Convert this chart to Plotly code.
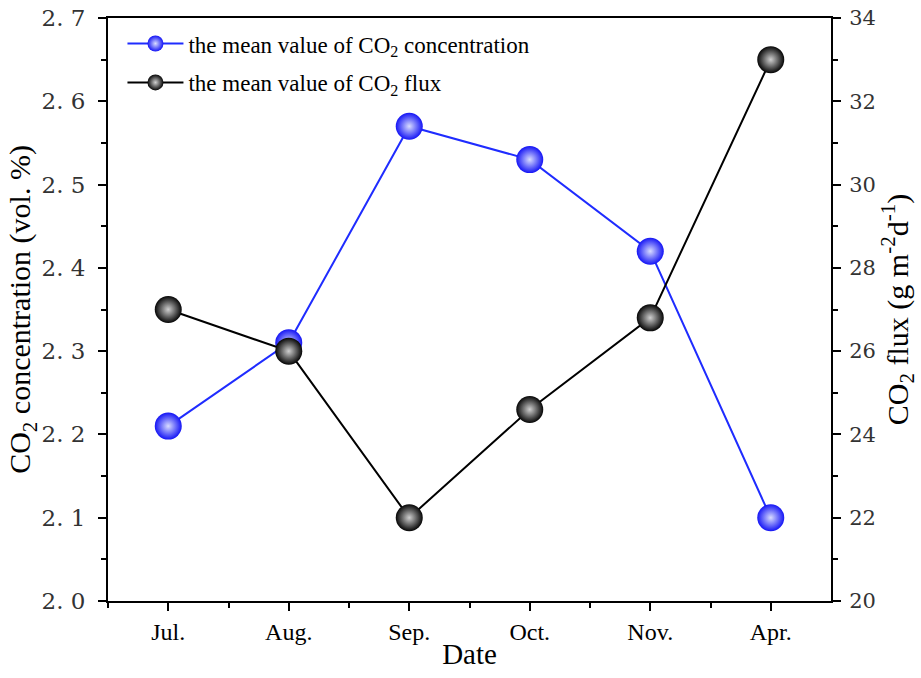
import plotly.graph_objects as go

months = ["Jul.", "Aug.", "Sep.", "Oct.", "Nov.", "Apr."]
co2_conc = [2.21, 2.31, 2.57, 2.53, 2.42, 2.10]
co2_flux = [27.0, 26.0, 22.0, 24.6, 26.8, 33.0]
left_ticks = [2.0, 2.1, 2.2, 2.3, 2.4, 2.5, 2.6, 2.7]
left_ticktext = ["2. 0", "2. 1", "2. 2", "2. 3", "2. 4", "2. 5", "2. 6", "2. 7"]
right_ticks = [20, 22, 24, 26, 28, 30, 32, 34]

SERIF = "Liberation Serif, Times New Roman, serif"
TICKFONT = "DejaVu Serif, serif"
x = list(range(len(months)))

fig = go.Figure()
fig.add_trace(go.Scatter(
    x=x, y=co2_conc, mode="lines+markers",
    name="the mean value of CO<sub>2</sub> concentration",
    legendgroup="a",
    line=dict(color="#1f2cff", width=2),
    marker=dict(size=27, color="#1515f5", symbol="circle",
                gradient=dict(type="radial", color="#d8dcff"),
                line=dict(width=0)),
    yaxis="y"))
fig.add_trace(go.Scatter(
    x=x, y=co2_flux, mode="lines+markers",
    name="the mean value of CO<sub>2</sub> flux",
    legendgroup="b",
    line=dict(color="black", width=2),
    marker=dict(size=27, color="#050505", symbol="circle",
                gradient=dict(type="radial", color="#d0d0d0"),
                line=dict(width=0)),
    yaxis="y2"))

fig.update_layout(
    width=921, height=678,
    margin=dict(l=108, r=90, t=18, b=77),
    paper_bgcolor="white", plot_bgcolor="white",
    font=dict(family=SERIF, color="black"),
    showlegend=True,
    legend=dict(x=0.02, y=0.993, xanchor="left", yanchor="top",
                bgcolor="rgba(0,0,0,0)", font=dict(size=23, family=SERIF),
                itemwidth=56, tracegroupgap=6),
    xaxis=dict(
        range=[-0.5, 5.5], tickmode="array", tickvals=x, ticktext=months,
        ticks="outside", ticklen=8, tickwidth=1.5, tickcolor="black",
        minor=dict(ticks="outside", ticklen=5, tickwidth=1.5, tickcolor="black",
                   tickvals=[v + 0.5 for v in x[:-1]] + [-0.5]),
        showline=True, linecolor="black", linewidth=2, mirror=True,
        showgrid=False, zeroline=False, ticklabelstandoff=0, automargin=False,
        tickfont=dict(size=24, family=SERIF),
        title=dict(text="Date", font=dict(size=29, family=SERIF), standoff=0),
    ),
    yaxis=dict(
        range=[2.0, 2.7], tickmode="array", tickvals=left_ticks, ticktext=left_ticktext,
        ticks="outside", ticklen=8, tickwidth=1.5, tickcolor="black",
        minor=dict(ticks="outside", ticklen=5, tickwidth=1.5, tickcolor="black", dtick=0.05),
        showline=True, linecolor="black", linewidth=2,
        showgrid=False, zeroline=False, ticklabelstandoff=8, automargin=False,
        tickfont=dict(size=23, family=TICKFONT, color="#333"),
        title=dict(text="CO<sub>2</sub> concentration (vol. %)", font=dict(size=30, family=SERIF), standoff=0),
    ),
    yaxis2=dict(
        range=[20, 34], tickmode="array", tickvals=right_ticks,
        overlaying="y", side="right",
        ticks="outside", ticklen=8, tickwidth=1.5, tickcolor="black",
        minor=dict(ticks="outside", ticklen=5, tickwidth=1.5, tickcolor="black", dtick=1),
        showline=True, linecolor="black", linewidth=2,
        showgrid=False, zeroline=False, ticklabelstandoff=4, automargin=False,
        tickfont=dict(size=21, family=TICKFONT, color="#333"),
        title=dict(text="CO<sub>2</sub> flux (g m<sup>-2</sup>d<sup>-1</sup>)", font=dict(size=30, family=SERIF), standoff=12),
    ),
)

fig.write_html("out.html")
